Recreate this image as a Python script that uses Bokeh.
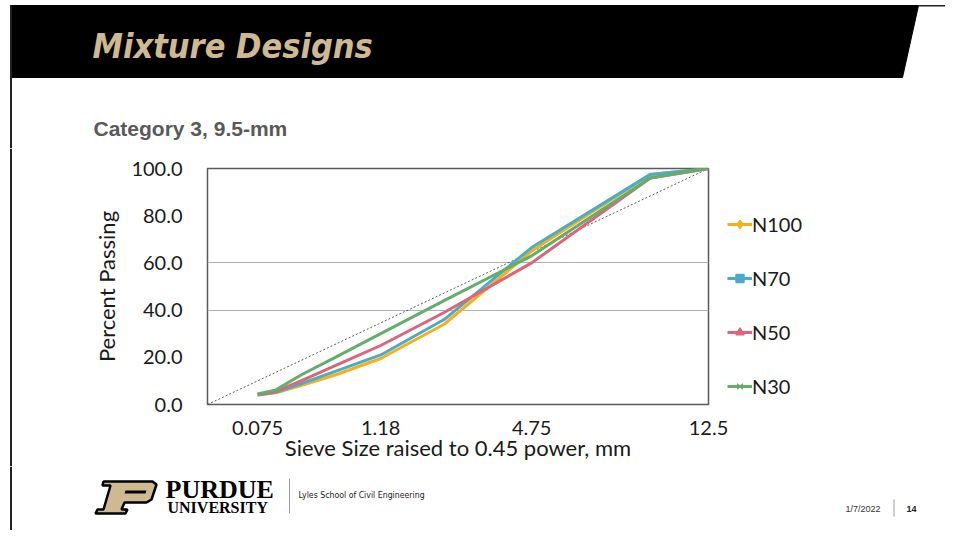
import numpy as np
from bokeh.plotting import figure
from bokeh.layouts import column, row
from bokeh.models import Range1d, FixedTicker, Legend, LegendItem, ColumnDataSource
from bokeh.core.properties import value
from bokeh.embed import file_html
from bokeh.resources import INLINE

# ---------------- data ----------------
sieve_sizes_mm = [0.075, 0.15, 0.3, 0.6, 1.18, 2.36, 4.75, 9.5, 12.5]
n100 = [4.0, 5.0, 8.0, 12.5, 19.5, 34.0, 65.0, 97.5, 100.0]
n70 = [4.0, 5.2, 8.8, 14.0, 21.0, 36.0, 66.5, 97.5, 100.0]
n50 = [4.2, 5.6, 10.0, 16.5, 25.0, 39.0, 60.0, 96.0, 100.0]
n30 = [4.5, 6.2, 12.5, 20.0, 30.0, 44.0, 63.0, 96.0, 100.0]
series_names = ["N100", "N70", "N50", "N30"]
max_density_sizes = [0.0, 12.5]
max_density_passing = [0.0, 100.0]
x_tick_sizes = [0.075, 1.18, 4.75, 12.5]
x_tick_labels = ["0.075", "1.18", "4.75", "12.5"]
y_ticks = [0, 20, 40, 60, 80, 100]
power = 0.45

# ---------------- styling ----------------
colors = ["#F4B01C", "#4BACC6", "#DD6479", "#62AF6B"]
markers = ["diamond", "square", "triangle", "x"]
GOLD = "#CFB991"
CHART_FONT = "Lato"

W = 945
H_HEAD, H_CHART, H_FOOT = 148, 318, 64
STRIP = 14
CHART_W = W - STRIP
CHART_TOP = H_HEAD  # reference y of chart figure top


def deco_figure(width, height):
    f = figure(width=width, height=height, output_backend="svg", toolbar_location=None,
               x_range=Range1d(0, width), y_range=Range1d(height, 0),
               x_axis_type=None, y_axis_type=None, min_border=0)
    f.grid.visible = False
    f.outline_line_color = None
    f.background_fill_color = "white"
    f.border_fill_color = "white"
    if hasattr(f, "frame_align"):
        f.frame_align = False
    return f


def txt(f, x, y, text, size, color="#000000", font="Liberation Sans", style="normal",
        align="left"):
    f.text(x=[x], y=[y], text=[text], text_font=value(font), text_font_size=size,
           text_font_style=style, text_color=color, text_align=align,
           text_baseline="middle")


# ---------------- header ----------------
head = deco_figure(W, H_HEAD)
head.patch([10, 918, 902, 10], [5, 5, 77, 77], fill_color="black", line_color="black")
head.patch([918, 945, 945, 918], [4.5, 4.5, 6, 6], fill_color="#222222", line_color=None)
head.patch([9.5, 11.5, 11.5, 9.5], [5, 5, H_HEAD, H_HEAD], fill_color="#222222", line_color=None)
txt(head, 92, 45, "Mixture Designs", "34px", GOLD, "DejaVu Sans Condensed", "bold italic")
txt(head, 93, 128, "Category 3, 9.5-mm", "21px", "#595959", "Liberation Sans", "bold")

# ---------------- left slide border next to the chart ----------------
strip = deco_figure(STRIP, H_CHART)
strip.patch([9.5, 11.5, 11.5, 9.5], [0, 0, H_CHART, H_CHART], fill_color="#222222",
            line_color=None)

# ---------------- chart ----------------
x_end = max(sieve_sizes_mm) ** power
FRAME_W, FRAME_H = 708 - 207, 404 - 168
p = figure(frame_width=FRAME_W, frame_height=FRAME_H, output_backend="svg",
           toolbar_location=None, x_range=Range1d(0, x_end), y_range=Range1d(0, 100),
           min_border_left=207 - STRIP, min_border_right=CHART_W - (708 - STRIP),
           min_border_top=168 - CHART_TOP, min_border_bottom=H_CHART - (404 - CHART_TOP))
p.background_fill_color = "white"
p.border_fill_color = "white"
p.outline_line_color = "#5a5a5a"
p.outline_line_width = 1.5

p.xaxis.ticker = FixedTicker(ticks=[s ** power for s in x_tick_sizes])
p.xaxis.major_label_overrides = {s ** power: lab for s, lab in zip(x_tick_sizes, x_tick_labels)}
p.yaxis.ticker = FixedTicker(ticks=y_ticks)
p.yaxis.major_label_overrides = {t: f"{t:.1f}" for t in y_ticks}
for ax in (p.xaxis[0], p.yaxis[0]):
    ax.axis_line_color = None
    ax.major_tick_line_color = None
    ax.minor_tick_line_color = None
    ax.major_label_text_font = CHART_FONT
    ax.major_label_text_font_size = "20px"
    ax.major_label_text_color = "#1a1a1a"
    ax.axis_label_text_font = CHART_FONT
    ax.axis_label_text_font_size = "22px"
    ax.axis_label_text_font_style = "normal"
    ax.axis_label_text_color = "#1a1a1a"
p.xaxis.axis_label = "Sieve Size raised to 0.45 power, mm"
p.yaxis.axis_label = "Percent Passing"
p.xaxis.major_label_standoff = 10
p.xaxis.axis_label_standoff = -4
p.yaxis.major_label_standoff = 19
p.yaxis.axis_label_standoff = 8

p.xgrid.grid_line_color = None
p.ygrid.ticker = FixedTicker(ticks=[40, 60])
p.ygrid.grid_line_color = "#b0b0b0"
p.ygrid.grid_line_width = 1

# maximum density line
p.line([s ** power for s in max_density_sizes], max_density_passing,
       line_color="#333333", line_width=0.8, line_dash="2 2")

xs = [s ** power for s in sieve_sizes_mm]
items = []
for name, vals, col, mk in zip(series_names, [n100, n70, n50, n30], colors, markers):
    src = ColumnDataSource(dict(x=xs, y=vals))
    ln = p.line("x", "y", source=src, line_color=col, line_width=3)
    sc = p.scatter("x", "y", source=src, marker=mk, size=9, fill_color=col,
                   line_color=col, line_width=1.5)
    sc.visible = False
    items.append(LegendItem(label=name, renderers=[ln, sc]))

legend = Legend(items=items, location=(19, 6),
                orientation="vertical", glyph_width=25, glyph_height=20,
                label_height=20, spacing=30, padding=0, margin=0,
                label_standoff=0, label_text_font=CHART_FONT,
                label_text_font_size="20px", label_text_color="#1a1a1a",
                border_line_color=None, background_fill_alpha=0)
p.add_layout(legend, "right")

# ---------------- footer ----------------
FY = H_HEAD + H_CHART  # reference y of footer top
foot = deco_figure(W, H_FOOT)
foot.patch([9.5, 11.5, 11.5, 9.5], [0, 0, H_FOOT, H_FOOT], fill_color="#222222", line_color=None)
pmark_x = [103, 152, 156, 151, 146, 124, 121, 127, 125, 95, 97, 103, 110, 102]
pmark_y = [481, 481, 484, 499, 502, 502, 509, 509, 513, 513, 509, 509, 485, 485]
foot.patch(pmark_x, [v - FY for v in pmark_y], fill_color=GOLD, line_color="black", line_width=2.5)
foot.patch([125, 146, 145, 124], [v - FY for v in [490, 490, 493, 493]], fill_color="black",
           line_color=None)
txt(foot, 165, 488.5 - FY, "PURDUE", "26px", "black", "Liberation Serif", "bold")
txt(foot, 167, 506.5 - FY, "UNIVERSITY", "16px", "black", "Liberation Serif", "bold")
foot.line([289, 289], [478 - FY, 513 - FY], line_color="#9a9a9a", line_width=1)
txt(foot, 298, 494 - FY, "Lyles School of Civil Engineering", "8.7px", "#222222",
    "DejaVu Sans Condensed", "normal")
txt(foot, 845, 508 - FY, "1/7/2022", "9px", "#333333", "Liberation Sans")
foot.line([893.5, 893.5], [499 - FY, 516 - FY], line_color="#9a9a9a", line_width=1)
txt(foot, 906, 508 - FY, "14", "9px", "#222222", "Liberation Sans", "bold")

layout = column(head, row(strip, p), foot)
open("out.html", "w").write(file_html(layout, INLINE))
